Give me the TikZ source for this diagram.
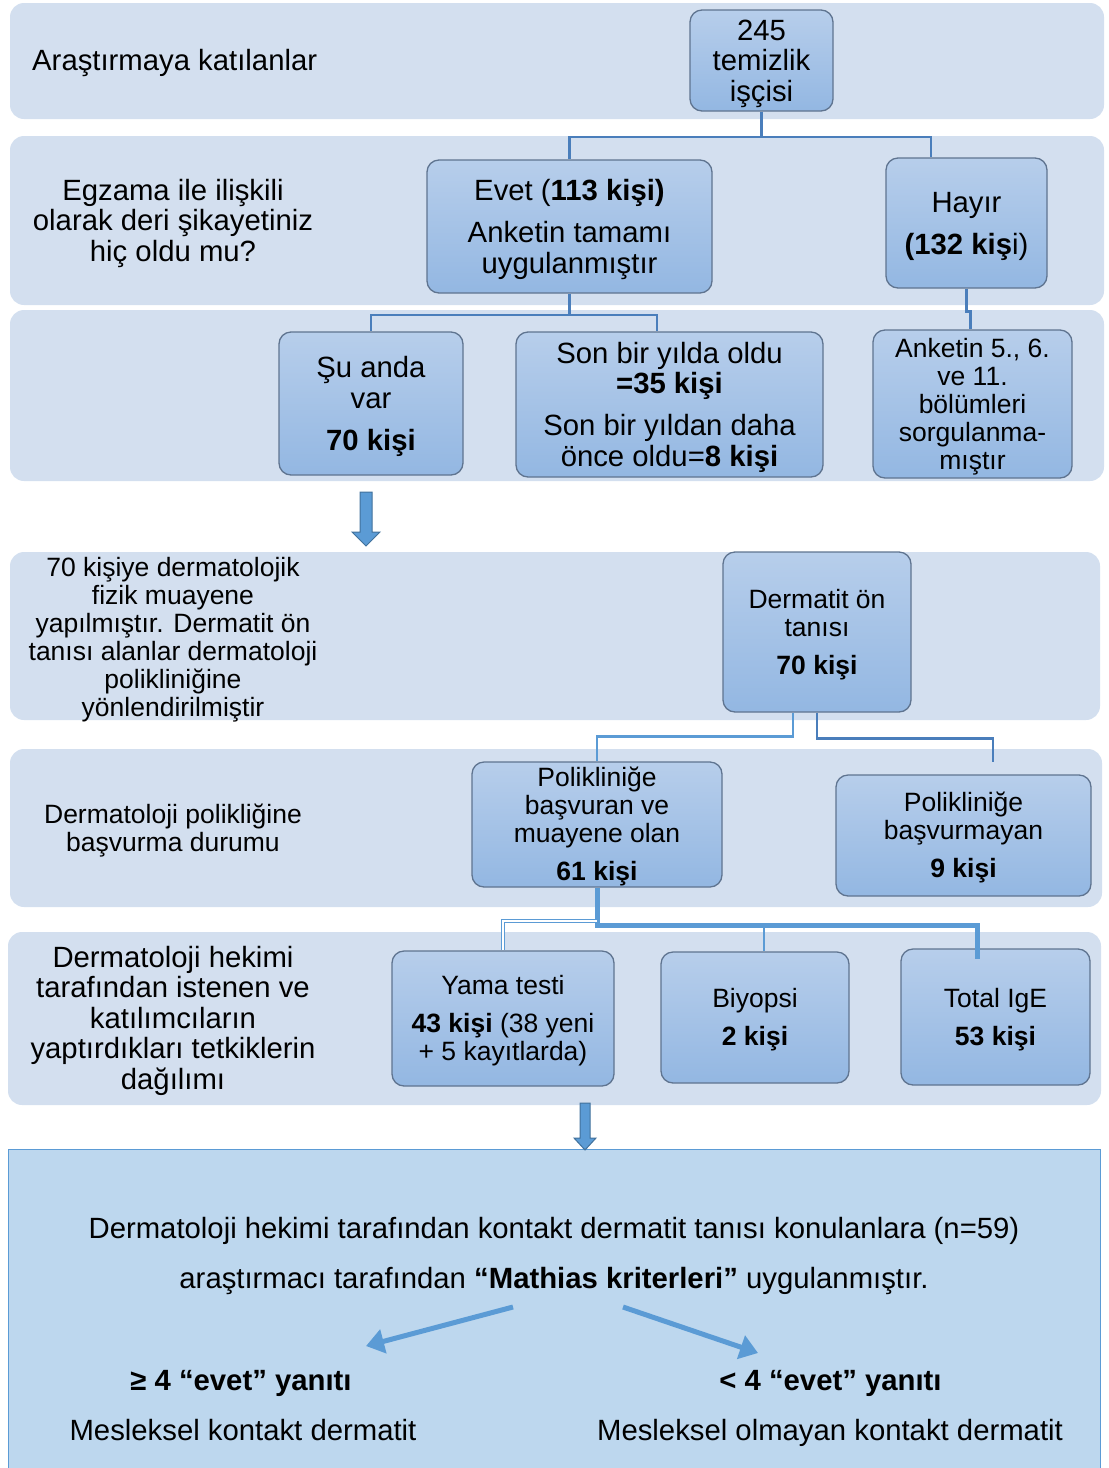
\documentclass[tikz,border=0pt]{standalone}
\usepackage{fontspec}
\setmainfont{Liberation Sans}
\usetikzlibrary{arrows.meta,calc}
\definecolor{bandc}{HTML}{D3DFEF}
\definecolor{boxtop}{HTML}{B7CEEB}
\definecolor{boxbot}{HTML}{93B7E2}
\definecolor{boxline}{HTML}{5F7490}
\definecolor{connc}{HTML}{4A7EBB}
\definecolor{connl}{HTML}{5B9BD5}
\definecolor{finalfill}{HTML}{BDD7EE}
\definecolor{arrline}{HTML}{41719C}
\newcommand\bigtop{\rule{0pt}{27pt}}
\newcommand\smalltop{\rule{0pt}{24pt}}
\begin{document}
\begin{tikzpicture}[x=1pt,y=-1pt,
  bandbox/.style={fill=bandc, draw=none, rounded corners=14pt, inner sep=0pt},
  flowbox/.style={draw=boxline, line width=1.3pt, rounded corners=12pt,
    top color=boxtop, bottom color=boxbot, align=center, inner sep=0pt},
  big/.style={font=\fontsize{29.3}{30.5}\selectfont, align=center, inner sep=0pt},
  small/.style={font=\fontsize{26.5}{28}\selectfont, align=center, inner sep=0pt},
  oneline/.style={text height=21pt, text depth=6pt},
  link/.style={draw=connc, line width=2.5pt},
  linkl/.style={draw=connl, line width=2.5pt},
  thicklink/.style={draw=connl, line width=5pt},
  blockarrow/.style={fill=connl, draw=arrline, line width=1pt},
  fatarrow/.style={draw=connl, line width=5pt, -{Triangle[width=24pt,length=18pt]}}
]
\useasboundingbox (0,0) rectangle (1109,1468);

% bands
\node[bandbox, minimum width=1094pt, minimum height=116pt] (b1) at (557,61) {};
\node[bandbox, minimum width=1094pt, minimum height=169pt] (b2) at (557,220.5) {};
\node[bandbox, minimum width=1094pt, minimum height=171pt] (b3) at (557,395.5) {};
\node[bandbox, minimum width=1090pt, minimum height=168pt] (b4) at (555,636) {};
\node[bandbox, minimum width=1092pt, minimum height=158pt] (b5) at (556,828) {};
\node[bandbox, minimum width=1093pt, minimum height=173pt] (b6) at (554.5,1018.5) {};

% final box
\node[fill=finalfill, draw=connl, line width=1pt, minimum width=1092pt, minimum height=325pt, inner sep=0pt] (final) at (554,1311.5) {};

% band labels
\node[big, oneline, anchor=west] (t1) at (32,63) {Araştırmaya katılanlar};
\node[big] (t2) at (173,223) {Egzama ile ilişkili\\olarak deri şikayetiniz\\hiç oldu mu?};
\node[small] (t4) at (173,640) {70 kişiye dermatolojik\\fizik muayene\\yapılmıştır. Dermatit ön\\tanısı alanlar dermatoloji\\polikliniğine\\yönlendirilmiştir};
\node[small] (t5) at (173,831) {Dermatoloji polikliğine\\başvurma durumu};
\node[big] (t6) at (173,1020.5) {Dermatoloji hekimi\\tarafından istenen ve\\katılımcıların\\yaptırdıkları tetkiklerin\\dağılımı};

% flow boxes
\node[flowbox, big, minimum width=143pt, minimum height=101pt] (n245) at (761.5,60.5) {\bigtop245\\temizlik\\işçisi};
\node[flowbox, big, minimum width=285pt, minimum height=133pt] (evet) at (569.5,226.5) {\bigtop Evet (\textbf{113 kişi)}\\[11.5pt]Anketin tamamı\\uygulanmıştır};
\node[flowbox, big, minimum width=161pt, minimum height=130pt] (hayir) at (966.5,223) {\bigtop Hayır\\[11.5pt]\textbf{(132 kiş}i)};
\node[flowbox, big, minimum width=184pt, minimum height=143pt] (suanda) at (371,403.5) {\bigtop Şu anda\\var\\[11.5pt]\textbf{70 kişi}};
\node[flowbox, big, minimum width=307pt, minimum height=145pt] (sonbir) at (669.5,404.5) {\bigtop Son bir yılda oldu\\\textbf{=35 kişi}\\[11.5pt]Son bir yıldan daha\\önce oldu=\textbf{8 kişi}};
\node[flowbox, small, minimum width=199pt, minimum height=148pt] (anketin) at (972.5,404) {\smalltop Anketin 5., 6.\\ve 11.\\bölümleri\\sorgulanma-\\mıştır};
\node[flowbox, small, minimum width=188pt, minimum height=160pt] (derm) at (817,632) {\smalltop Dermatit ön\\tanısı\\[10pt]\textbf{70 kişi}};
\node[flowbox, small, minimum width=250pt, minimum height=125pt] (pol1) at (597,824.5) {\smalltop Polikliniğe\\başvuran ve\\muayene olan\\[10pt]\textbf{61 kişi}};
\node[flowbox, small, minimum width=255pt, minimum height=121pt] (pol2) at (963.5,835.5) {\smalltop Polikliniğe\\başvurmayan\\[10pt]\textbf{9 kişi}};
\node[flowbox, small, minimum width=222pt, minimum height=135pt] (yama) at (503,1018.5) {\smalltop Yama testi\\[10pt]\textbf{43 kişi} (38 yeni\\+ 5 kayıtlarda)};
\node[flowbox, small, minimum width=188pt, minimum height=131pt] (biyopsi) at (755,1017.5) {\smalltop Biyopsi\\[10pt]\textbf{2 kişi}};
\node[flowbox, small, minimum width=189pt, minimum height=136pt] (totalige) at (995.5,1017) {\smalltop Total IgE\\[10pt]\textbf{53 kişi}};

% connectors
\coordinate (j1) at (761.5,137);
\draw[link] (n245.south) -- (j1);
\draw[link] (j1) -| (evet.north);
\draw[link] (j1) -| ([xshift=-35.5pt]hayir.north);
\coordinate (j2) at (569.5,315);
\draw[link] (evet.south) -- (j2);
\draw[link] (j2) -| (suanda.north);
\draw[link] (j2) -| ([xshift=-12.5pt]sonbir.north);
\draw[link] (hayir.south) -- ++(0,23) -| ([xshift=-2pt]anketin.north);

\draw[linkl] ([xshift=-24pt]derm.south) -- ++(0,24) -| (pol1.north);
\coordinate (free1) at (993,762);
\draw[link] (derm.south) -- ++(0,26) -| (free1);

\coordinate (j3) at (597,925);
\coordinate (j4) at (977,925);
\draw[thicklink] (pol1.south) -- (j3) -- (j4) -- ([xshift=-18.5pt,yshift=-11pt]totalige.north);
\draw[draw=connl, line width=1.5pt] (j3 -| biyopsi.north) ++(9,0) -- ([xshift=9pt]biyopsi.north);
\draw[draw=connl, line width=1pt, double=white, double distance=2pt] (597,921) -| (yama.north);

% block arrows
\draw[blockarrow] (360,492) -- (372,492) -- (372,532) -- (380,532) -- (366,546) -- (352,532) -- (360,532) -- cycle;
\draw[blockarrow] (580,1103) -- (590,1103) -- (590,1138) -- (596,1138) -- (585,1150) -- (574,1138) -- (580,1138) -- cycle;

% final box texts
\node[big, oneline] (m1) at (554,1231) {Dermatoloji hekimi tarafından kontakt dermatit tanısı konulanlara (n=59)};
\node[big, oneline] (m2) at (554,1281) {araştırmacı tarafından \textbf{“Mathias kriterleri”} uygulanmıştır.};
\node[big, oneline] (r1) at (241,1383) {\textbf{≥ 4 “evet” yanıtı}};
\node[big, oneline] (r2) at (830.5,1383) {\textbf{< 4 “evet” yanıtı}};
\node[big, oneline] (d1) at (243,1433) {Mesleksel kontakt dermatit};
\node[big, oneline] (d2) at (830,1433) {Mesleksel olmayan kontakt dermatit};
\coordinate (la) at (513,1307);
\coordinate (lb) at (366,1346);
\coordinate (ra) at (623,1307);
\coordinate (rb) at (758,1353);
\draw[fatarrow] (la) -- (lb);
\draw[fatarrow] (ra) -- (rb);
\end{tikzpicture}
\end{document}
